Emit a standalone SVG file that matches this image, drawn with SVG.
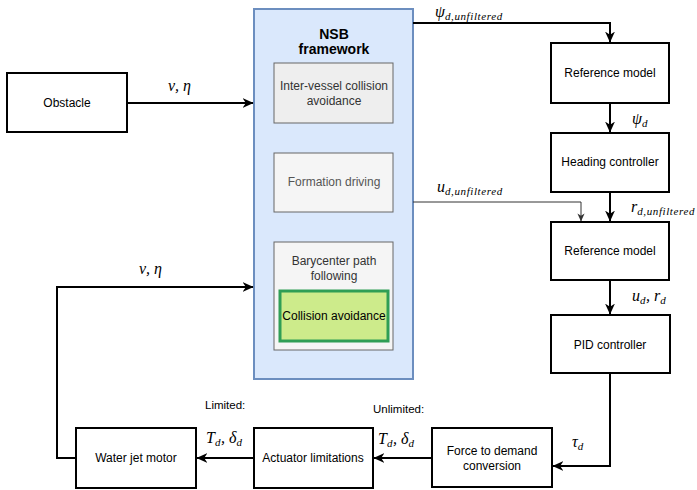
<svg xmlns="http://www.w3.org/2000/svg" width="697" height="490" viewBox="0 0 697 490">
<defs>
<marker id="arr" viewBox="0 0 10 10" markerWidth="11" markerHeight="11" refX="9.5" refY="5" orient="auto" markerUnits="userSpaceOnUse">
<path d="M0,0.5 L10,5 L0,9.5 L3,5 z" fill="#000"/>
</marker>
<marker id="arrs" viewBox="0 0 10 10" markerWidth="8" markerHeight="8" refX="9.5" refY="5" orient="auto" markerUnits="userSpaceOnUse">
<path d="M0,0.5 L10,5 L0,9.5 L3,5 z" fill="#333"/>
</marker>
<style>
.box{fill:#fff;stroke:#000;stroke-width:2}
.inner{fill:#f5f5f5;stroke:#666;stroke-width:1}
.t{font-family:"Liberation Sans",Arial,sans-serif;font-size:12px;fill:#000;text-anchor:middle}
.ti{font-family:"Liberation Sans",Arial,sans-serif;font-size:12px;fill:#333;text-anchor:middle}
.lbl{font-family:"Liberation Sans",Arial,sans-serif;font-size:11.5px;fill:#000}
.m{font-family:"Liberation Serif","Times New Roman",serif;font-style:italic;font-size:16px;fill:#000}
.s{font-size:11px;letter-spacing:0.6px}
.c{fill:none;stroke:#000;stroke-width:2}
.cthin{fill:none;stroke:#333;stroke-width:1}
</style>
</defs>

<g id="nsb">
<rect x="254" y="9" width="159" height="370" fill="#dae8fc" stroke="#6c8ebf" stroke-width="2"/>
<text x="334" y="39" style="font-family:'Liberation Sans',Arial,sans-serif;font-size:14px;font-weight:bold;text-anchor:middle">NSB</text>
<text x="334" y="54" style="font-family:'Liberation Sans',Arial,sans-serif;font-size:14px;font-weight:bold;text-anchor:middle">framework</text>
</g>
<g id="inter-vessel">
<rect class="inner" x="274" y="63" width="119" height="60" style="fill:#eeeeee"/>
<text class="ti" x="334" y="90">Inter-vessel collision</text>
<text class="ti" x="334" y="105">avoidance</text>
</g>
<g id="formation">
<rect class="inner" x="274" y="153" width="119" height="59"/>
<text class="ti" x="334" y="186" style="fill:#555">Formation driving</text>
</g>
<g id="barycenter">
<rect class="inner" x="274" y="242" width="119" height="108"/>
<text class="ti" x="334" y="265">Barycenter path</text>
<text class="ti" x="334" y="280">following</text>
</g>
<g id="collision">
<rect x="280" y="291" width="108" height="50" fill="#cdeb8b" stroke="#2f9e55" stroke-width="3"/>
<text class="t" x="334" y="320">Collision avoidance</text>
</g>

<g id="obstacle">
<rect class="box" x="7" y="73" width="120" height="59"/>
<text class="t" x="67" y="107">Obstacle</text>
</g>
<g id="refmodel1">
<rect class="box" x="551" y="43" width="118" height="60"/>
<text class="t" x="610" y="77">Reference model</text>
</g>
<g id="heading">
<rect class="box" x="551" y="133" width="118" height="59"/>
<text class="t" x="610" y="166">Heading controller</text>
</g>
<g id="refmodel2">
<rect class="box" x="551" y="222" width="118" height="58"/>
<text class="t" x="610" y="255">Reference model</text>
</g>
<g id="pid">
<rect class="box" x="551" y="315" width="119" height="58"/>
<text class="t" x="610" y="349">PID controller</text>
</g>
<g id="force">
<rect class="box" x="432" y="428" width="120" height="59"/>
<text class="t" x="492" y="455">Force to demand</text>
<text class="t" x="492" y="470">conversion</text>
</g>
<g id="actuator">
<rect class="box" x="254" y="428" width="119" height="60"/>
<text class="t" x="313" y="462">Actuator limitations</text>
</g>
<g id="waterjet">
<rect class="box" x="76" y="428" width="120" height="60"/>
<text class="t" x="136" y="462">Water jet motor</text>
</g>

<g id="connectors">
<path class="c" d="M127,103 H253" marker-end="url(#arr)"/>
<path class="c" d="M76,458 H57 V287 H253" marker-end="url(#arr)"/>
<path class="c" d="M413,23 H610 V42" marker-end="url(#arr)"/>
<path class="c" d="M610,103 V132" marker-end="url(#arr)"/>
<path class="c" d="M610,192 V221" marker-end="url(#arr)"/>
<path class="cthin" d="M413,202 H581 V221" marker-end="url(#arrs)"/>
<path class="c" d="M610,280 V314" marker-end="url(#arr)"/>
<path class="c" d="M610,373 V466 H553" marker-end="url(#arr)"/>
<path class="c" d="M432,458 H374" marker-end="url(#arr)"/>
<path class="c" d="M254,458 H197" marker-end="url(#arr)"/>
</g>

<g id="labels">
<text class="m" x="168" y="91">ν, η</text>
<text class="m" x="139" y="274">ν, η</text>
<text class="m" x="435" y="17">ψ<tspan class="s" dy="3">d,unfiltered</tspan></text>
<text class="m" x="632" y="124">ψ<tspan class="s" dy="3">d</tspan></text>
<text class="m" x="437" y="192">u<tspan class="s" dy="3">d,unfiltered</tspan></text>
<text class="m" x="631" y="212">r<tspan class="s" dy="3">d,unfiltered</tspan></text>
<text class="m" x="632" y="301">u<tspan class="s" dy="3">d</tspan><tspan dy="-3">, r</tspan><tspan class="s" dy="3">d</tspan></text>
<text class="m" x="572" y="447">τ<tspan class="s" dy="3">d</tspan></text>
<text class="m" x="206" y="443">T<tspan class="s" dy="3">d</tspan><tspan dy="-3">, δ</tspan><tspan class="s" dy="3">d</tspan></text>
<text class="m" x="378" y="444">T<tspan class="s" dy="3">d</tspan><tspan dy="-3">, δ</tspan><tspan class="s" dy="3">d</tspan></text>
<text class="lbl" x="205" y="409">Limited:</text>
<text class="lbl" x="373" y="413">Unlimited:</text>
</g>
</svg>
